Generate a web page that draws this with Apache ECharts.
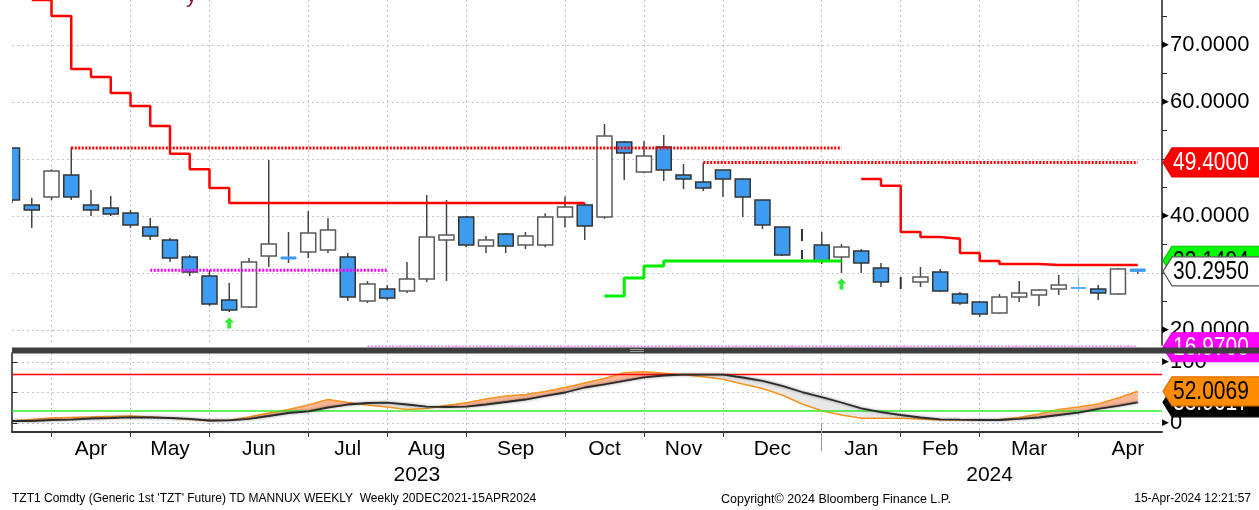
<!DOCTYPE html>
<html><head><meta charset="utf-8">
<script src="https://cdn.jsdelivr.net/npm/echarts@6/dist/echarts.min.js"></script>
<style>html,body{margin:0;padding:0;background:#fff;}#c{width:1259px;height:510px;}</style>
</head><body><div id="c"></div>
<script>
// ---- categories: weekly bars (Friday dates) ----
const weeks = ['2023-03-17','2023-03-24','2023-03-31','2023-04-07','2023-04-14','2023-04-21','2023-04-28',
 '2023-05-05','2023-05-12','2023-05-19','2023-05-26','2023-06-02','2023-06-09','2023-06-16','2023-06-23','2023-06-30',
 '2023-07-07','2023-07-14','2023-07-21','2023-07-28','2023-08-04','2023-08-11','2023-08-18','2023-08-25',
 '2023-09-01','2023-09-08','2023-09-15','2023-09-22','2023-09-29','2023-10-06','2023-10-13','2023-10-20','2023-10-27',
 '2023-11-03','2023-11-10','2023-11-17','2023-11-24','2023-12-01','2023-12-08','2023-12-15','2023-12-22','2023-12-29',
 '2024-01-05','2024-01-12','2024-01-19','2024-01-26','2024-02-02','2024-02-09','2024-02-16','2024-02-23',
 '2024-03-01','2024-03-08','2024-03-15','2024-03-22','2024-03-29','2024-04-05','2024-04-12','2024-04-19'];

// ---- candles ----
const openV  = [51.93,41.93,43.33,47.19,41.93,41.40,40.53,38.07,35.79,32.81,29.47,25.26,24.04,32.98,32.81,33.68,34.04,32.81,25.09,27.19,26.84,28.95,35.79,39.82,34.74,36.84,34.91,34.91,39.82,41.93,39.82,52.98,47.72,52.11,47.19,45.96,48.07,46.49,42.81,38.07,34.90,34.91,32.81,33.86,30.88,28.00,28.42,30.18,26.32,24.91,22.98,25.79,26.14,27.19,27.37,27.19,26.32,30.70];
const closeV = [42.81,41.05,47.89,43.33,41.05,40.35,38.42,36.49,32.63,30.18,24.56,23.51,31.93,35.09,32.46,37.02,37.54,25.79,28.07,25.61,28.95,36.32,36.67,34.91,35.79,34.74,36.49,39.82,41.58,38.25,54.04,51.05,50.53,48.07,46.49,44.91,46.49,43.33,38.42,33.16,34.90,32.11,34.56,31.75,28.42,28.00,29.30,26.84,24.74,22.81,25.79,26.49,27.02,27.89,27.37,26.49,30.70,30.295];
const lowV   = [42.30,37.89,42.80,42.80,40.00,40.00,37.89,35.79,31.93,29.47,24.21,23.16,23.86,31.05,31.75,32.63,33.50,25.09,24.74,25.20,26.50,28.40,28.60,34.50,33.50,33.50,34.20,34.50,38.00,35.79,39.50,46.32,47.50,46.14,44.74,44.39,43.33,39.82,37.72,33.00,32.46,31.58,30.00,30.00,27.54,26.49,27.54,26.67,24.39,22.28,22.80,24.91,24.21,26.14,26.84,25.26,26.14,29.82];
const highV  = [52.00,43.20,48.20,52.11,44.56,43.51,41.05,39.65,36.14,33.16,30.53,28.25,32.63,49.82,37.20,40.88,39.65,33.50,28.60,27.90,31.93,43.68,42.81,40.00,36.50,37.00,37.20,40.50,43.40,42.30,56.14,53.16,53.16,54.21,49.12,49.30,48.07,46.60,42.81,38.07,37.72,37.19,35.09,34.20,31.75,29.30,31.05,30.70,26.67,25.00,26.32,28.60,27.19,29.65,29.12,27.89,30.88,30.70];
const dashedWeeks = [40, 45];
const lightWeeks = [14, 57];

// ---- trailing stops ----
const redStopAStart = 1;
const redStopA = [77.9,75.1,65.8,64.4,61.6,59.3,55.8,50.9,48.2,44.9,42.3,42.3,42.3,42.3,42.3,42.3,42.3,42.3,42.3,42.3,42.3,42.3,42.3,42.3,42.3,42.3,42.3,42.3,42.3];
const redStopBStart = 43;
const redStopB = [46.5,45.3,37.2,36.3,36.0,33.5,32.1,31.6,31.6,31.4,31.4,31.4,31.4,31.4,31.4];
const greenStopStart = 30;
const greenStop = [25.96,29.12,31.23,32.1,32.1,32.1,32.1,32.1,32.1,32.1,32.1,32.1,32.1];

// ---- horizontal levels [value, fromWeek, toWeek] ----
const resistLevels = [[51.93,3,42],[49.40,35,57]];
const supportLevels = [[30.50,7,19],[16.97,18,57]];
const arrowWeeks = [11, 42];

// ---- stochastic ----
const stochK = [3.3,5.7,8.2,9.0,9.8,10.7,11.5,9.8,8.2,5.7,3.8,4.4,9.8,16.4,22.1,29.5,38.5,33.6,29.5,26.2,22.1,23.8,28.7,33.3,39.3,44.3,46.7,51.6,58.2,65.6,73.0,82.5,84.1,81.5,79.2,75.9,71.6,63.9,56.6,45.9,31.1,20.2,13.1,7.7,7.7,7.7,6.6,4.9,4.9,4.9,5.7,9.0,14.8,22.1,26.2,31.1,41.0,52.0069];
const stochD = [3.3,3.3,4.9,5.7,7.4,8.2,9.3,9.0,8.2,6.6,4.1,4.4,6.6,11.5,16.4,18.9,25.4,30.3,32.8,33.3,30.3,27.0,26.2,26.7,30.3,34.4,38.5,44.3,50.0,58.2,63.4,68.9,74.9,77.9,79.2,79.2,79.2,74.6,68.9,60.7,50.8,42.6,33.6,24.1,18.0,13.1,9.0,6.1,5.4,4.9,4.9,6.6,9.0,13.1,16.9,23.0,27.9,33.9];
const stochLevels = [80, 20];

// ---- axes ----
const monthTickIdx = [2,6,10,15,19,23,28,32,36,41,45,49,54,59];
const monthNames = ['Apr','May','Jun','Jul','Aug','Sep','Oct','Nov','Dec','Jan','Feb','Mar','Apr'];
const yearNames = ['2023','2024'];
const yearBreaks = [0, 41, 58];
const priceTicks = [20,25,30,35,40,45,50,55,60,65,70,75];
const priceGrid = [20,30,40,50,60,70];
const priceLabels = [20,40,60,70];
const stochTicks = [0,50,100];
const stochLabels = [0,100];

// ---- price tags ----
const mainTagValues = [49.4, 32.1494, 30.295, 16.97];
const lowerTagValues = [33.9617, 52.0069];

const FONT = '"Liberation Sans", Arial, sans-serif';
const XMAX = 58.23;
const monthMid = monthNames.map((m,k)=>(monthTickIdx[k]+monthTickIdx[k+1])/2);
const yearMid = yearNames.map((y,k)=>(yearBreaks[k]+yearBreaks[k+1])/2);
const gridLine = {show:true, lineStyle:{color:'#bcc3d1', type:[2,3], width:1}};

const mainTagStyle = [
  {bg:'#ff0000', fg:'#ffffff', bd:'#e00000'},
  {bg:'#00ff00', fg:'#000000', bd:'#00c000'},
  {bg:'#ffffff', fg:'#000000', bd:'#555555'},
  {bg:'#ff00ff', fg:'#ffffff', bd:'#e000e0'}];
const lowerTagStyle = [
  {bg:'#000000', fg:'#ffffff', bd:'#000000'},
  {bg:'#ff8c00', fg:'#000000', bd:'#e07000'}];

function tagRenderer(styles){
  return function(params, api){
    const v = api.value(0);
    const s = styles[params.dataIndex];
    const p = api.coord([XMAX, v]);
    const x = p[0]+1, y = p[1], h = 29;
    return {type:'group', children:[
      {type:'polygon', shape:{points:[[x,y],[x+9,y-h/2],[1265,y-h/2],[1265,y+h/2],[x+9,y+h/2]]},
       style:{fill:s.bg, stroke:s.bd, lineWidth:1.2}},
      {type:'text', x:x+10, y:y+1, scaleX:0.84, style:{text:v.toFixed(4), x:0, y:0, verticalAlign:'middle', align:'left',
       fill:s.fg, font:'25px '+FONT}}
    ]};
  };
}

function renderCandle(params, api){
  const i = api.value(0), o = api.value(1), c = api.value(2), lo = api.value(3), hi = api.value(4);
  const pH = api.coord([i, hi]), pL = api.coord([i, lo]);
  const pO = api.coord([i, o]), pC = api.coord([i, c]);
  const w = 15;
  const x = pO[0];
  const children = [];
  if (dashedWeeks.indexOf(i) >= 0){
    children.push({type:'line', shape:{x1:x,y1:pH[1],x2:x,y2:pL[1]}, style:{stroke:'#333', lineWidth:2, lineDash:[12,9]}});
    return {type:'group', children};
  }
  const light = lightWeeks.indexOf(i) >= 0;
  const doji = Math.abs(o - c) < 0.001;
  const up = c > o;
  if (doji){
    children.push({type:'line', shape:{x1:x,y1:pH[1],x2:x,y2:pL[1]}, style:{stroke:'#7fb9ea', lineWidth:1.2}});
    children.push({type:'line', shape:{x1:x-w/2,y1:pO[1],x2:x+w/2,y2:pO[1]}, style:{stroke:'#5aaef0', lineWidth:2}});
    return {type:'group', children};
  }
  children.push({type:'line', shape:{x1:x,y1:pH[1],x2:x,y2:pL[1]}, style:{stroke:'#444', lineWidth:1.5}});
  const top = Math.min(pO[1], pC[1]), bot = Math.max(pO[1], pC[1]);
  children.push({type:'rect', shape:{x:x-w/2, y:top, width:w, height:Math.max(bot-top,1.5)},
    style:{fill: up ? '#ffffff' : '#3d9cf0', stroke: light ? '#3d9cf0' : (up ? '#5a5a5a' : '#333'), lineWidth: light?1:1.5}});
  return {type:'group', children};
}

function renderFill(params, api){
  const i = api.value(0), k0 = api.value(1), d0 = api.value(2), k1 = api.value(3), d1 = api.value(4);
  const P = (a,b)=>api.coord([a,b]);
  const upC = '#fbb697', dnC = '#e8e8e8';
  const s0 = k0-d0, s1 = k1-d1;
  const ch = [];
  if (s0*s1 >= 0){
    const col = (s0+s1) >= 0 ? upC : dnC;
    ch.push({type:'polygon', shape:{points:[P(i,k0),P(i+1,k1),P(i+1,d1),P(i,d0)]}, style:{fill:col, stroke:col, lineWidth:0.5}});
  } else {
    const t = s0/(s0-s1), xm = i+t, ym = k0+t*(k1-k0);
    const c0 = s0>0?upC:dnC, c1 = s1>0?upC:dnC;
    ch.push({type:'polygon', shape:{points:[P(i,k0),P(xm,ym),P(i,d0)]}, style:{fill:c0, stroke:c0, lineWidth:0.5}});
    ch.push({type:'polygon', shape:{points:[P(xm,ym),P(i+1,k1),P(i+1,d1)]}, style:{fill:c1, stroke:c1, lineWidth:0.5}});
  }
  return {type:'group', children:ch};
}

const stepData = (start, arr) => arr.map((v,k)=>[start+k, v]);
const levelSeries = (lv, color) => lv.map(l => ({
  type:'line', xAxisIndex:0, yAxisIndex:0, symbol:'none', silent:true, z:4,
  data:[[l[1], l[0]],[l[2], l[0]]], lineStyle:{color, width:3, type:[2,1.5]}
}));

const axisLabelRich = {
  t:{fontSize:9, color:'#000', padding:[0,1,0,0]},
  v:{fontSize:22, fontFamily:FONT, color:'#000'}
};

const option = {
  animation:false,
  backgroundColor:'#ffffff',
  grid:[
    {left:12, right:97, top:0, height:345},
    {left:12, right:97, top:353, height:79}
  ],
  xAxis:[
    {type:'value', gridIndex:0, min:0, max:XMAX, axisLine:{show:false},
     axisTick:{show:false, customValues:monthTickIdx}, axisLabel:{show:false}, splitLine:gridLine},
    {type:'value', gridIndex:1, min:0, max:XMAX, position:'bottom',
     axisLine:{show:true, onZero:false, lineStyle:{color:'#333', width:2}},
     axisTick:{show:true, customValues:monthTickIdx, length:5, lineStyle:{color:'#333', width:1}},
     axisLabel:{show:true, customValues:monthMid, margin:7, fontSize:21, fontFamily:FONT, color:'#000',
       formatter:v=>{const k = monthMid.indexOf(v); return k>=0?monthNames[k]:'';}},
     splitLine:gridLine},
    {type:'value', gridIndex:1, min:0, max:XMAX, position:'bottom', offset:30,
     axisLine:{show:false},
     axisTick:{show:true, customValues:[yearBreaks[1]], length:28, lineStyle:{color:'#999', width:1}},
     axisLabel:{show:true, customValues:yearMid, margin:3, fontSize:21, fontFamily:FONT, color:'#000',
       formatter:v=>{const k = yearMid.indexOf(v); return k>=0?yearNames[k]:'';}},
     splitLine:{show:false}}
  ],
  yAxis:[
    {type:'value', gridIndex:0, position:'right', min:17.368, max:77.895,
     axisLine:{show:false}, axisTick:{show:false, customValues:priceGrid}, axisLabel:{show:false}, splitLine:gridLine},
    {type:'value', gridIndex:0, position:'right', min:17.368, max:77.895,
     axisLine:{show:true, lineStyle:{color:'#222', width:1.5}},
     axisTick:{show:true, customValues:priceTicks, length:5, lineStyle:{color:'#222'}},
     axisLabel:{show:true, customValues:priceLabels, margin:0, formatter:v=>'{t|▶}{v|'+v.toFixed(4)+'}', rich:axisLabelRich},
     splitLine:{show:false}},
    {type:'value', gridIndex:1, position:'right', min:-14.75, max:114.75,
     axisLine:{show:true, lineStyle:{color:'#222', width:1.5}},
     axisTick:{show:true, customValues:stochTicks, length:5, lineStyle:{color:'#222'}},
     axisLabel:{show:true, customValues:stochLabels, margin:0, formatter:v=>'{t|▶}{v|'+v+'}', rich:axisLabelRich},
     splitLine:{show:true, lineStyle:{color:'#bcc3d1', type:[2,3], width:1}}}
  ],
  series:[
    {type:'custom', name:'candles', xAxisIndex:0, yAxisIndex:0, renderItem:renderCandle, z:2, clip:true,
     encode:{x:0, y:[1,2,3,4]},
     data:weeks.map((w,i)=>[i, openV[i], closeV[i], lowV[i], highV[i]])},
    {type:'line', name:'stopA', xAxisIndex:0, yAxisIndex:0, step:'end', symbol:'none', z:5,
     data:stepData(redStopAStart, redStopA), lineStyle:{color:'#ff0000', width:2.5}},
    {type:'line', name:'stopB', xAxisIndex:0, yAxisIndex:0, step:'end', symbol:'none', z:5,
     data:stepData(redStopBStart, redStopB), lineStyle:{color:'#ff0000', width:2.5}},
    {type:'line', name:'stopG', xAxisIndex:0, yAxisIndex:0, step:'end', symbol:'none', z:5,
     data:stepData(greenStopStart, greenStop), lineStyle:{color:'#00ee00', width:3}},
    ...levelSeries(resistLevels, '#ff0000'),
    ...levelSeries(supportLevels, '#ff00ff'),
    {type:'scatter', name:'arrows', xAxisIndex:0, yAxisIndex:0, z:6,
     symbol:'path://M5,0 L10,5 L7,5 L7,11 L3,11 L3,5 L0,5 Z', symbolSize:[10,11], symbolOffset:[0,11],
     itemStyle:{color:'#00e600'}, data:arrowWeeks.map(i=>[i, lowV[i]])},
    {type:'custom', name:'mainTags', xAxisIndex:0, yAxisIndex:0, clip:false, z:20,
     renderItem:tagRenderer(mainTagStyle), encode:{y:0}, data:mainTagValues.map(v=>[v])},
    {type:'custom', name:'stochFill', xAxisIndex:1, yAxisIndex:2, renderItem:renderFill, z:2, clip:true,
     encode:{x:[0,2], y:[1,3,4]},
     data:stochK.slice(0,-1).map((k,i)=>[i, k, stochD[i], stochK[i+1], stochD[i+1]])},
    {type:'line', name:'K', xAxisIndex:1, yAxisIndex:2, symbol:'none', z:4,
     data:stochK.map((v,i)=>[i,v]), lineStyle:{color:'#f7941d', width:1.5},
     markLine:{silent:true, symbol:'none', label:{show:false},
       data:[{yAxis:stochLevels[0], lineStyle:{color:'#ff0000', width:1.3, type:'solid'}},
             {yAxis:stochLevels[1], lineStyle:{color:'#33ee33', width:1.5, type:'solid'}}]}},
    {type:'line', name:'D', xAxisIndex:1, yAxisIndex:2, symbol:'none', z:5,
     data:stochD.map((v,i)=>[i,v]), lineStyle:{color:'#2b2b2b', width:1.8, shadowColor:'rgba(0,0,0,0.45)', shadowBlur:3}},
    {type:'custom', name:'lowerTags', xAxisIndex:1, yAxisIndex:2, clip:false, z:20,
     renderItem:tagRenderer(lowerTagStyle), encode:{y:0}, data:lowerTagValues.map(v=>[v])}
  ],
  graphic:[
    {type:'rect', z:100, shape:{x:12, y:347.5, width:1247, height:6}, style:{fill:'#3d3d3d'}},
    {type:'line', z:101, shape:{x1:630,y1:349.5,x2:644,y2:349.5}, style:{stroke:'#9a9a9a', lineWidth:1}},
    {type:'line', z:101, shape:{x1:630,y1:351.5,x2:644,y2:351.5}, style:{stroke:'#9a9a9a', lineWidth:1}},
    {type:'text', z:50, left:186, top:-15, style:{text:'y', font:'22px '+FONT, fill:'#8c1c3c'}},
    {type:'text', z:50, left:12, top:493, style:{text:"TZT1 Comdty (Generic 1st 'TZT' Future) TD MANNUX WEEKLY  Weekly 20DEC2021-15APR2024", font:'12px "Liberation Sans", "DejaVu Sans", sans-serif', fill:'#000'}},
    {type:'text', z:50, left:721, top:493, style:{text:'Copyright\u00a9 2024 Bloomberg Finance L.P.', font:'12.5px "Liberation Sans", "DejaVu Sans", sans-serif', fill:'#000'}},
    {type:'text', z:50, right:8, top:493, style:{text:'15-Apr-2024 12:21:57', font:'12px "Liberation Sans", "DejaVu Sans", sans-serif', fill:'#000'}}
  ]
};
const chart = echarts.init(document.getElementById('c'));
chart.setOption(option);
</script>
</body></html>
